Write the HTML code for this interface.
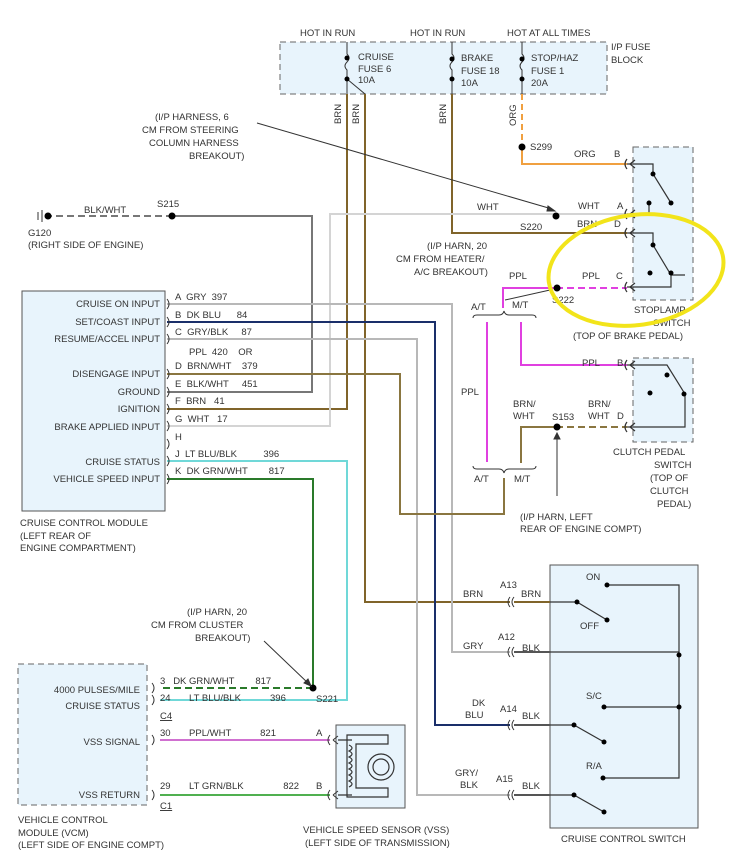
<!DOCTYPE html>
<html><head><meta charset="utf-8"><style>
html,body{margin:0;padding:0;background:#fff;}
svg{display:block;}
text{font-family:"Liberation Sans",sans-serif;font-size:9.5px;fill:#333;white-space:pre;}
</style></head><body>
<svg width="733" height="862" viewBox="0 0 733 862" xmlns="http://www.w3.org/2000/svg" xml:space="preserve">
<!-- boxes -->
<rect x="280" y="42" width="327" height="52" fill="#e8f4fc" stroke="#666" stroke-dasharray="6,4"/>
<rect x="22" y="291" width="143" height="220" fill="#e8f4fc" stroke="#555"/>
<rect x="633" y="147" width="60" height="153" fill="#e8f4fc" stroke="#666" stroke-dasharray="6,4"/>
<rect x="633" y="358" width="60" height="84" fill="#e8f4fc" stroke="#666" stroke-dasharray="6,4"/>
<rect x="18" y="664" width="129" height="141" fill="#e8f4fc" stroke="#666" stroke-dasharray="6,4"/>
<rect x="336" y="725" width="69" height="83" fill="#e8f4fc" stroke="#555"/>
<rect x="550" y="565" width="148" height="263" fill="#e8f4fc" stroke="#555"/>

<!-- fuse block internals -->
<g stroke="#333" fill="none" stroke-width="1">
<path d="M347 42 V54 q4 4 0 8 q-4 4 0 8 V94"/>
<path d="M347 79 L365 94"/>
<path d="M452 42 V54 q4 4 0 8 q-4 4 0 8 V94"/>
<path d="M522 42 V54 q4 4 0 8 q-4 4 0 8 V94"/>
</g>
<g fill="#000"><circle cx="347" cy="58" r="2.5"/><circle cx="347" cy="79" r="2.5"/><circle cx="452" cy="59" r="2.5"/><circle cx="452" cy="79" r="2.5"/><circle cx="522" cy="59" r="2.5"/><circle cx="522" cy="79" r="2.5"/></g>
<text x="300" y="36">HOT IN RUN</text><text x="410" y="36">HOT IN RUN</text><text x="507" y="36">HOT AT ALL TIMES</text>
<text x="611" y="50">I/P FUSE</text><text x="611" y="63">BLOCK</text>
<text x="358" y="60">CRUISE</text><text x="358" y="72">FUSE 6</text><text x="358" y="83">10A</text>
<text x="461" y="61">BRAKE</text><text x="461" y="74">FUSE 18</text><text x="461" y="86">10A</text>
<text x="531" y="61">STOP/HAZ</text><text x="531" y="74">FUSE 1</text><text x="531" y="86">20A</text>
<text transform="translate(341,124) rotate(-90)">BRN</text>
<text transform="translate(359,124) rotate(-90)">BRN</text>
<text transform="translate(446,124) rotate(-90)">BRN</text>
<text transform="translate(516,126) rotate(-90)">ORG</text>

<!-- wires -->
<g fill="none" stroke-width="2">
<path d="M347 94 V409 H167" stroke="#80642a"/>
<path d="M365 94 V602 H510" stroke="#80642a"/>
<path d="M452 94 V233 H627" stroke="#80642a"/>
<path d="M522 94 V147" stroke="#f0a040" stroke-dasharray="6,4"/>
<path d="M522 147 V164 H627" stroke="#f0a040"/>
<path d="M627 214 H330 V426 H167" stroke="#d4d4d4"/>
<path d="M172 216 H312 V392 H167" stroke="#777"/>
<path d="M45 216 H172" stroke="#777" stroke-dasharray="7,4"/>
<path d="M167 304 H452 V652 H510" stroke="#b8b8b8"/>
<path d="M167 322 H435 V725 H510" stroke="#1a2f6a"/>
<path d="M167 339 H417 V795 H510" stroke="#b8b8b8"/>
<path d="M167 374 H400 V514 H504 V478" stroke="#8a7640"/>
<path d="M521 463 V427 H556" stroke="#8a7640"/>
<path d="M556 427 H627" stroke="#8a7640" stroke-dasharray="7,4"/>
<path d="M556 288 H503 V308" stroke="#e040e0"/>
<path d="M556 288 H627" stroke="#e040e0" stroke-dasharray="7,4"/>
<path d="M487 322 V462" stroke="#e040e0"/>
<path d="M521 322 V365 H627" stroke="#e040e0"/>
<path d="M167 461 H347 V700 H160" stroke="#70d8d8"/>
<path d="M167 479 H313 V688" stroke="#2a7a2a"/>
<path d="M313 688 H160" stroke="#2a7a2a" stroke-dasharray="7,4"/>
<path d="M160 740 H330" stroke="#d070d0"/>
<path d="M160 795 H330" stroke="#50b050"/>
<path d="M514 602 H550" stroke="#80642a"/>
<path d="M514 652 H550" stroke="#555"/>
<path d="M514 725 H550" stroke="#555"/>
<path d="M514 795 H550" stroke="#555"/>
</g>
<!-- wire inside cruise switch -->
<g stroke="#333" fill="none" stroke-width="1.2">
<path d="M550 602 H577 L607 620"/><path d="M607 585 H679 V778 H603"/><path d="M550 652 H679"/><path d="M604 707 H679"/>
<path d="M550 725 H574 L604 742"/><path d="M550 795 H574 L604 812"/>
</g>
<g fill="#000"><circle cx="577" cy="602" r="2.5"/><circle cx="607" cy="620" r="2.5"/><circle cx="607" cy="585" r="2.5"/><circle cx="679" cy="655" r="2.5"/><circle cx="604" cy="707" r="2.5"/><circle cx="679" cy="707" r="2.5"/><circle cx="574" cy="725" r="2.5"/><circle cx="604" cy="742" r="2.5"/><circle cx="603" cy="778" r="2.5"/><circle cx="574" cy="795" r="2.5"/><circle cx="604" cy="812" r="2.5"/></g>
<text x="586" y="580">ON</text><text x="580" y="629">OFF</text><text x="586" y="699">S/C</text><text x="586" y="769">R/A</text>
<text x="561" y="842">CRUISE CONTROL SWITCH</text>

<!-- connectors at cruise switch -->
<g stroke="#333" fill="none"><path d="M510 597 q-4 5 0 10 M514 597 q-4 5 0 10"/><path d="M510 647 q-4 5 0 10 M514 647 q-4 5 0 10"/><path d="M510 720 q-4 5 0 10 M514 720 q-4 5 0 10"/><path d="M510 790 q-4 5 0 10 M514 790 q-4 5 0 10"/></g>
<text x="463" y="597">BRN</text><text x="500" y="588">A13</text><text x="521" y="597">BRN</text>
<text x="463" y="649">GRY</text><text x="498" y="640">A12</text><text x="522" y="651">BLK</text>
<text x="472" y="706">DK</text><text x="465" y="718">BLU</text><text x="500" y="712">A14</text><text x="522" y="719">BLK</text>
<text x="455" y="776">GRY/</text><text x="460" y="788">BLK</text><text x="496" y="782">A15</text><text x="522" y="789">BLK</text>

<!-- stoplamp switch -->
<g stroke="#333" fill="none" stroke-width="1.2">
<path d="M627 164 H653 V174 L671 203"/><path d="M627 214 H649 V203"/><path d="M627 233 H653 V245 L671 275 H685 M671 275 V287 H627"/>
<path d="M630 164 l5 -4 M630 164 l5 4 M630 233 l5 -4 M630 233 l5 4 M630 287 l5 -4 M630 287 l5 4 M630 214 l5 -4 M630 214 l5 4"/>
<path d="M627 159 q-4 5 0 10 M627 209 q-4 5 0 10 M627 228 q-4 5 0 10 M627 282 q-4 5 0 10"/>
<path d="M627 360 q-4 5 0 10 M627 422 q-4 5 0 10 M630 365 l5 -4 M630 365 l5 4 M630 427 l5 -4 M630 427 l5 4"/>
<path d="M627 365 H667 L685 394 V427 H627"/>
</g>
<g fill="#000"><circle cx="653" cy="174" r="2.5"/><circle cx="671" cy="203" r="2.5"/><circle cx="649" cy="203" r="2.5"/><circle cx="653" cy="245" r="2.5"/><circle cx="671" cy="273" r="2.5"/><circle cx="650" cy="273" r="2.5"/><circle cx="667" cy="375" r="2.5"/><circle cx="684" cy="394" r="2.5"/><circle cx="650" cy="393" r="2.5"/>
<circle cx="522" cy="147" r="3.5"/><circle cx="556" cy="216" r="3.5"/><circle cx="557" cy="288" r="3.5"/><circle cx="557" cy="427" r="3.5"/><circle cx="172" cy="216" r="3.5"/><circle cx="48" cy="216" r="3.5"/><circle cx="313" cy="688" r="3.5"/></g>
<text x="530" y="150">S299</text><text x="574" y="157">ORG</text><text x="614" y="157">B</text>
<text x="477" y="210">WHT</text><text x="578" y="209">WHT</text><text x="617" y="209">A</text>
<text x="577" y="227">BRN</text><text x="614" y="227">D</text><text x="520" y="230">S220</text>
<text x="509" y="279">PPL</text><text x="582" y="279">PPL</text><text x="616" y="279">C</text><text x="552" y="303">S222</text>
<text x="634" y="313">STOPLAMP</text><text x="653" y="326">SWITCH</text><text x="573" y="339">(TOP OF BRAKE PEDAL)</text>
<text x="427" y="249">(I/P HARN, 20</text><text x="396" y="262">CM FROM HEATER/</text><text x="414" y="275">A/C BREAKOUT)</text>
<text x="582" y="366">PPL</text><text x="617" y="366">B</text>
<text x="513" y="407">BRN/</text><text x="513" y="419">WHT</text><text x="588" y="407">BRN/</text><text x="588" y="419">WHT</text><text x="617" y="419">D</text><text x="552" y="420">S153</text>
<text x="613" y="455">CLUTCH PEDAL</text><text x="654" y="468">SWITCH</text><text x="650" y="481">(TOP OF</text><text x="650" y="494">CLUTCH</text><text x="657" y="507">PEDAL)</text>
<text x="520" y="520">(I/P HARN, LEFT</text><text x="520" y="532">REAR OF ENGINE COMPT)</text>
<text x="461" y="395">PPL</text>
<text x="471" y="310">A/T</text><text x="512" y="308">M/T</text><text x="474" y="482">A/T</text><text x="514" y="482">M/T</text>
<g stroke="#333" fill="none">
<path d="M473 318 q0 -3 4 -3 H499 q4 0 5 -4 q1 4 5 4 H532 q4 0 4 3"/>
<path d="M473 466 q0 3 4 3 H499 q4 0 5 4 q1 -4 5 -4 H532 q4 0 4 -3"/>
<path d="M557 496 V434"/><path d="M557 433 l-3 6 h6 z" fill="#333"/>
<path d="M257 123 L552 209"/><path d="M555 211 l-7 -5 l-1 5 z" fill="#333"/>
<path d="M505 300 L550 290"/>
<path d="M264 641 L309 684"/><path d="M311 686 l-3 -7 l-4 4 z" fill="#333"/>
<path d="M38 212 V220 M42 210 V222"/>
</g>
<text x="155" y="120">(I/P HARNESS, 6</text><text x="142" y="133">CM FROM STEERING</text><text x="149" y="146">COLUMN HARNESS</text><text x="189" y="159">BREAKOUT)</text>
<text x="84" y="213">BLK/WHT</text><text x="157" y="207">S215</text><text x="28" y="236">G120</text><text x="28" y="248">(RIGHT SIDE OF ENGINE)</text>

<!-- module labels -->
<g text-anchor="end">
<text x="160" y="307">CRUISE ON INPUT</text><text x="160" y="325">SET/COAST INPUT</text><text x="160" y="342">RESUME/ACCEL INPUT</text>
<text x="160" y="377">DISENGAGE INPUT</text><text x="160" y="395">GROUND</text><text x="160" y="412">IGNITION</text><text x="160" y="430">BRAKE APPLIED INPUT</text>
<text x="160" y="465">CRUISE STATUS</text><text x="160" y="482">VEHICLE SPEED INPUT</text>
<text x="140" y="693">4000 PULSES/MILE</text><text x="140" y="709">CRUISE STATUS</text><text x="140" y="745">VSS SIGNAL</text><text x="140" y="798">VSS RETURN</text>
</g>
<g stroke="#333" fill="none">
<path d="M167 299 q4 5 0 10 M167 317 q4 5 0 10 M167 334 q4 5 0 10 M167 369 q4 5 0 10 M167 387 q4 5 0 10 M167 404 q4 5 0 10 M167 421 q4 5 0 10 M167 439 q4 5 0 10 M167 456 q4 5 0 10 M167 474 q4 5 0 10"/>
<path d="M152 683 q4 5 0 10 M152 695 q4 5 0 10 M152 735 q4 5 0 10 M152 790 q4 5 0 10"/>
<path d="M330 735 q-4 5 0 10 M330 790 q-4 5 0 10 M333 740 l5 -4 M333 740 l5 4 M333 795 l5 -4 M333 795 l5 4"/>
</g>
<text x="175" y="300">A  GRY  397</text><text x="175" y="318">B  DK BLU      84</text><text x="175" y="335">C  GRY/BLK     87</text>
<text x="189" y="355">PPL  420    OR</text><text x="175" y="369">D  BRN/WHT    379</text><text x="175" y="387">E  BLK/WHT     451</text>
<text x="175" y="404">F  BRN   41</text><text x="175" y="422">G  WHT   17</text><text x="175" y="440">H</text>
<text x="175" y="457">J  LT BLU/BLK          396</text><text x="175" y="474">K  DK GRN/WHT        817</text>
<text x="20" y="526">CRUISE CONTROL MODULE</text><text x="20" y="539">(LEFT REAR OF</text><text x="20" y="551">ENGINE COMPARTMENT)</text>
<text x="187" y="615">(I/P HARN, 20</text><text x="151" y="628">CM FROM CLUSTER</text><text x="195" y="641">BREAKOUT)</text>
<text x="160" y="684">3   DK GRN/WHT        817</text><text x="160" y="701">24       LT BLU/BLK           396</text><text x="316" y="702">S221</text>
<text x="160" y="719" text-decoration="underline">C4</text>
<text x="160" y="736">30       PPL/WHT           821</text><text x="316" y="736">A</text>
<text x="160" y="789">29       LT GRN/BLK               822</text><text x="316" y="789">B</text>
<text x="160" y="809" text-decoration="underline">C1</text>
<text x="18" y="823">VEHICLE CONTROL</text><text x="18" y="836">MODULE (VCM)</text><text x="18" y="848">(LEFT SIDE OF ENGINE COMPT)</text>
<text x="303" y="833">VEHICLE SPEED SENSOR (VSS)</text><text x="305" y="846">(LEFT SIDE OF TRANSMISSION)</text>
<!-- VSS sensor -->
<g stroke="#333" fill="none" stroke-width="1.2">
<path d="M388 735 H347 V797 H388 V788 H356 V744 H388 Z"/>
<path d="M338 740 H352 M338 795 H352"/>
<path d="M349 745 q6 3 0 6 q6 3 0 6 q6 3 0 6 q6 3 0 6 q6 3 0 6 q6 3 0 6 q6 3 0 6"/>
<circle cx="381" cy="767" r="13"/><circle cx="381" cy="767" r="8"/>
</g>
<ellipse cx="636" cy="270" rx="88" ry="55" transform="rotate(-8 636 270)" fill="none" stroke="#f2e41a" stroke-width="4"/>
</svg>
</body></html>
